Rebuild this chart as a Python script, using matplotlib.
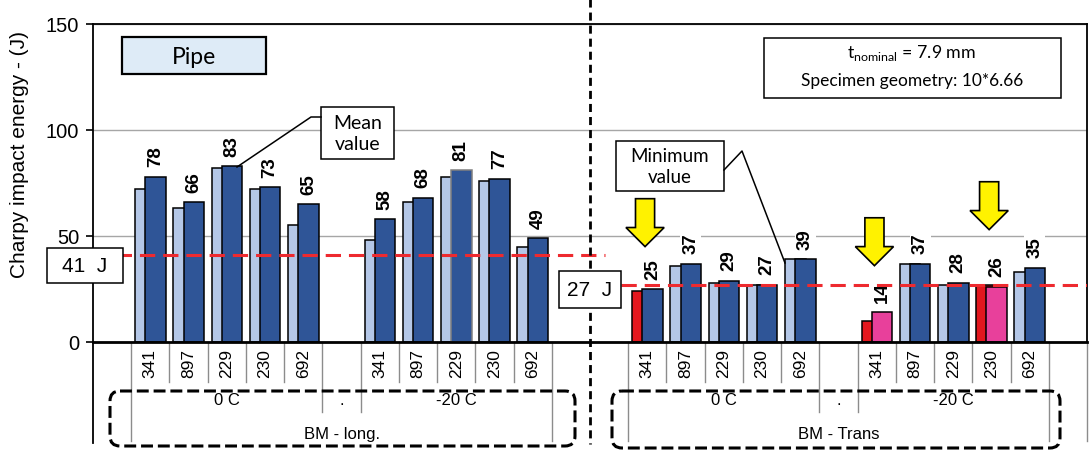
import matplotlib
matplotlib.use("Agg")
import matplotlib.pyplot as plt
from matplotlib.patches import FancyBboxPatch, Rectangle, Polygon

# ---- data -------------------------------------------------------------
samples = ["341", "897", "229", "230", "692"]
temperatures = ["0 C", "-20 C"]
orientations = ["BM - long.", "BM - Trans"]

# individual (lowest) specimen values and mean values, in J
long_0c_single = [72, 63, 82, 72, 55]
long_0c_mean = [78, 66, 83, 73, 65]
long_m20_single = [48, 66, 78, 76, 45]
long_m20_mean = [58, 68, 81, 77, 49]
trans_0c_single = [24, 36, 28, 27, 39]
trans_0c_mean = [25, 37, 29, 27, 39]
trans_m20_single = [10, 37, 27, 27, 33]
trans_m20_mean = [14, 37, 28, 26, 35]

requirement_long = 41
requirement_trans = 27

# results that fall short of the requirement
single_flag = [[False] * 5, [False] * 5,
               [True, False, False, False, False],
               [True, False, False, True, False]]
mean_flag = [[False] * 5, [False] * 5,
             [False] * 5,
             [True, False, False, True, False]]

# ---- style ------------------------------------------------------------
LIGHT = "#B4C7E7"
DARK = "#2F5597"
RED = "#E3171E"
PINK = "#E8409B"
REQ = "#EE2A2F"
GRID = "#A6A6A6"
SEP = "#8C8C8C"
SANS = ["Liberation Sans", "DejaVu Sans"]
CAL = ["Lato", "DejaVu Sans"]

plt.rcParams["font.family"] = SANS
plt.rcParams["mathtext.fontset"] = "custom"
plt.rcParams["mathtext.rm"] = "Lato"

W, H = 1092, 452
fig = plt.figure(figsize=(W / 100, H / 100), dpi=100)

ax_l, ax_r, ax_t, ax_b = 93, 1087, 25, 343
ax = fig.add_axes([ax_l / W, 1 - ax_b / H, (ax_r - ax_l) / W, (ax_b - ax_t) / H])
nslots = 26
ax.set_xlim(-0.5, nslots - 0.5)
ax.set_ylim(0, 150)
ax.set_axisbelow(True)

group_start = [1, 7, 14, 20]
singles = [long_0c_single, long_m20_single, trans_0c_single, trans_m20_single]
means = [long_0c_mean, long_m20_mean, trans_0c_mean, trans_m20_mean]

bw = 0.535
for g, s0 in enumerate(group_start):
    xs = [s0 + k for k in range(5)]
    c1 = [RED if f else LIGHT for f in single_flag[g]]
    c2 = [PINK if f else DARK for f in mean_flag[g]]
    ax.bar([x - 0.13 for x in xs], singles[g], width=bw, color=c1,
           edgecolor="black", linewidth=1.1, zorder=2)
    ec = ["#808080" if (g == 1 and k == 2) else "black" for k in range(5)]
    ax.bar([x + 0.135 for x in xs], means[g], width=bw, color=c2,
           edgecolor=ec, linewidth=1.1, zorder=2.5)
    for x, v in zip(xs, means[g]):
        ax.annotate(f"{v}", (x + 0.135, v), xytext=(0, 7.5),
                    textcoords="offset points", rotation=90,
                    ha="center", va="bottom", fontsize=13.5,
                    fontweight="bold", zorder=3,
                    bbox=dict(fc="white", ec="none", pad=1.5))

# requirement lines
ax.hlines(requirement_long, -0.5, 12.9, colors=REQ, linewidth=2.2,
          linestyles=(0, (5, 2.6)), zorder=4)
ax.hlines(requirement_trans, 13.3, 25.5, colors=REQ, linewidth=2.2,
          linestyles=(0, (5, 2.6)), zorder=4)

# axes frame, ticks, grid
for sp in ax.spines.values():
    sp.set_color("black")
ax.spines["bottom"].set_linewidth(2)
ax.spines["top"].set_linewidth(1.3)
ax.spines["left"].set_linewidth(1.3)
ax.spines["right"].set_linewidth(1.3)
ax.set_yticks([0, 50, 100, 150])
ax.tick_params(axis="y", length=5, width=1.2, labelsize=14.5, pad=5)
ax.set_xticks([])
ax.yaxis.grid(True, color=GRID, linewidth=1)
fig.text(20 / W, 1 - 155 / H, "Charpy impact energy - (J)", rotation=90,
         ha="center", va="center", fontsize=15)

# ---- multi-level category axis ------------------------------------------
tr = ax.get_xaxis_transform()


def frac(py):
    return (ax_b - py) / (ax_b - ax_t)


short, medium, full = frac(383), frac(413), frac(442)
for s0 in group_start:
    for k in range(4):
        ax.plot([s0 + k + 0.5] * 2, [0, short], transform=tr, color=SEP,
                lw=1, clip_on=False)
    for k, lab in enumerate(samples):
        ax.text(s0 + k, frac(364), lab, transform=tr, rotation=90,
                ha="center", va="center", fontsize=12.5)
for b in (0.5, 11.5, 13.5, 24.5, 25.5):
    ax.plot([b, b], [0, full], transform=tr, color=SEP, lw=1, clip_on=False)
for b in (5.5, 6.5, 18.5, 19.5):
    ax.plot([b, b], [0, medium], transform=tr, color=SEP, lw=1, clip_on=False)
ax.plot([-0.5, -0.5], [0, frac(444)], transform=tr, color="black", lw=1.3,
        clip_on=False)

for side, s_left in enumerate((1, 14)):
    ax.text(s_left + 2, frac(401), temperatures[0], transform=tr,
            ha="center", va="center", fontsize=12)
    ax.text(s_left + 5, frac(401), ".", transform=tr,
            ha="center", va="center", fontsize=12)
    ax.text(s_left + 8, frac(401), temperatures[1], transform=tr,
            ha="center", va="center", fontsize=12)
    ax.text(s_left + 5, frac(435), orientations[side], transform=tr,
            ha="center", va="center", fontsize=12)

# divider between longitudinal and transverse specimens
ax.plot([12.5, 12.5], [frac(0), frac(445)], transform=tr, color="black",
        lw=2, linestyle=(0, (2.9, 1.8)), clip_on=False, zorder=5)

# arrows marking results below requirement
arrow_slot = [14, 20, 23]
arrow_tip = [45, 36, 53]
for s, tip in zip(arrow_slot, arrow_tip):
    c = s - 0.06
    hl, L = 9.0, 22.6
    pts = [(c - 0.25, tip + L), (c + 0.25, tip + L), (c + 0.25, tip + hl),
           (c + 0.5, tip + hl), (c, tip), (c - 0.5, tip + hl),
           (c - 0.25, tip + hl)]
    ax.add_patch(Polygon(pts, closed=True, fc="#FFF200", ec="black",
                         lw=1.2, zorder=6))

# ---- annotation layer (pixel coordinates) ------------------------------
ov = fig.add_axes([0, 0, 1, 1], zorder=10)
ov.set_xlim(0, W)
ov.set_ylim(H, 0)
ov.axis("off")


def box(x0, y0, x1, y1, fc="white", lw=1.1):
    ov.add_patch(Rectangle((x0, y0), x1 - x0, y1 - y0, fc=fc, ec="black",
                           lw=lw))


box(122, 38, 266, 75, fc="#DEEBF7", lw=1.6)
ov.text(194, 57, "Pipe", ha="center", va="center", fontsize=16.5, family=CAL)

box(47, 249, 123, 284)
ov.text(85, 267, "41  J", ha="center", va="center", fontsize=15)
box(559, 272, 621, 309)
ov.text(590, 291, "27  J", ha="center", va="center", fontsize=15)

box(321, 108, 394, 160)
ov.text(357.5, 134, "Mean\nvalue", ha="center", va="center", fontsize=14,
        family=CAL, linespacing=1.3)
ov.plot([321, 311, 237], [118, 118, 168], color="black", lw=1.1)

box(616, 142, 724, 192)
ov.text(670, 167, "Minimum\nvalue", ha="center", va="center", fontsize=13.5,
        family=CAL, linespacing=1.3)
ov.plot([724, 742, 785], [171, 152, 264], color="black", lw=1.1)

box(764, 39, 1061, 99)
ov.text(912, 53, r"t$_{\mathregular{nominal}}$ = 7.9 mm", ha="center",
        va="center", fontsize=12.8, family=CAL)
ov.text(912, 81, "Specimen geometry: 10*6.66", ha="center", va="center",
        fontsize=12.5, family=CAL)

for x0, x1, y0, y1 in ((110, 575, 392, 447), (612, 1060, 392, 449)):
    ov.add_patch(FancyBboxPatch((x0, y0), x1 - x0, y1 - y0,
                                boxstyle="round,pad=0,rounding_size=10",
                                fc="none", ec="black", lw=2.2,
                                linestyle=(0, (3.9, 1.6))))

fig.savefig("out.png", dpi=100)
